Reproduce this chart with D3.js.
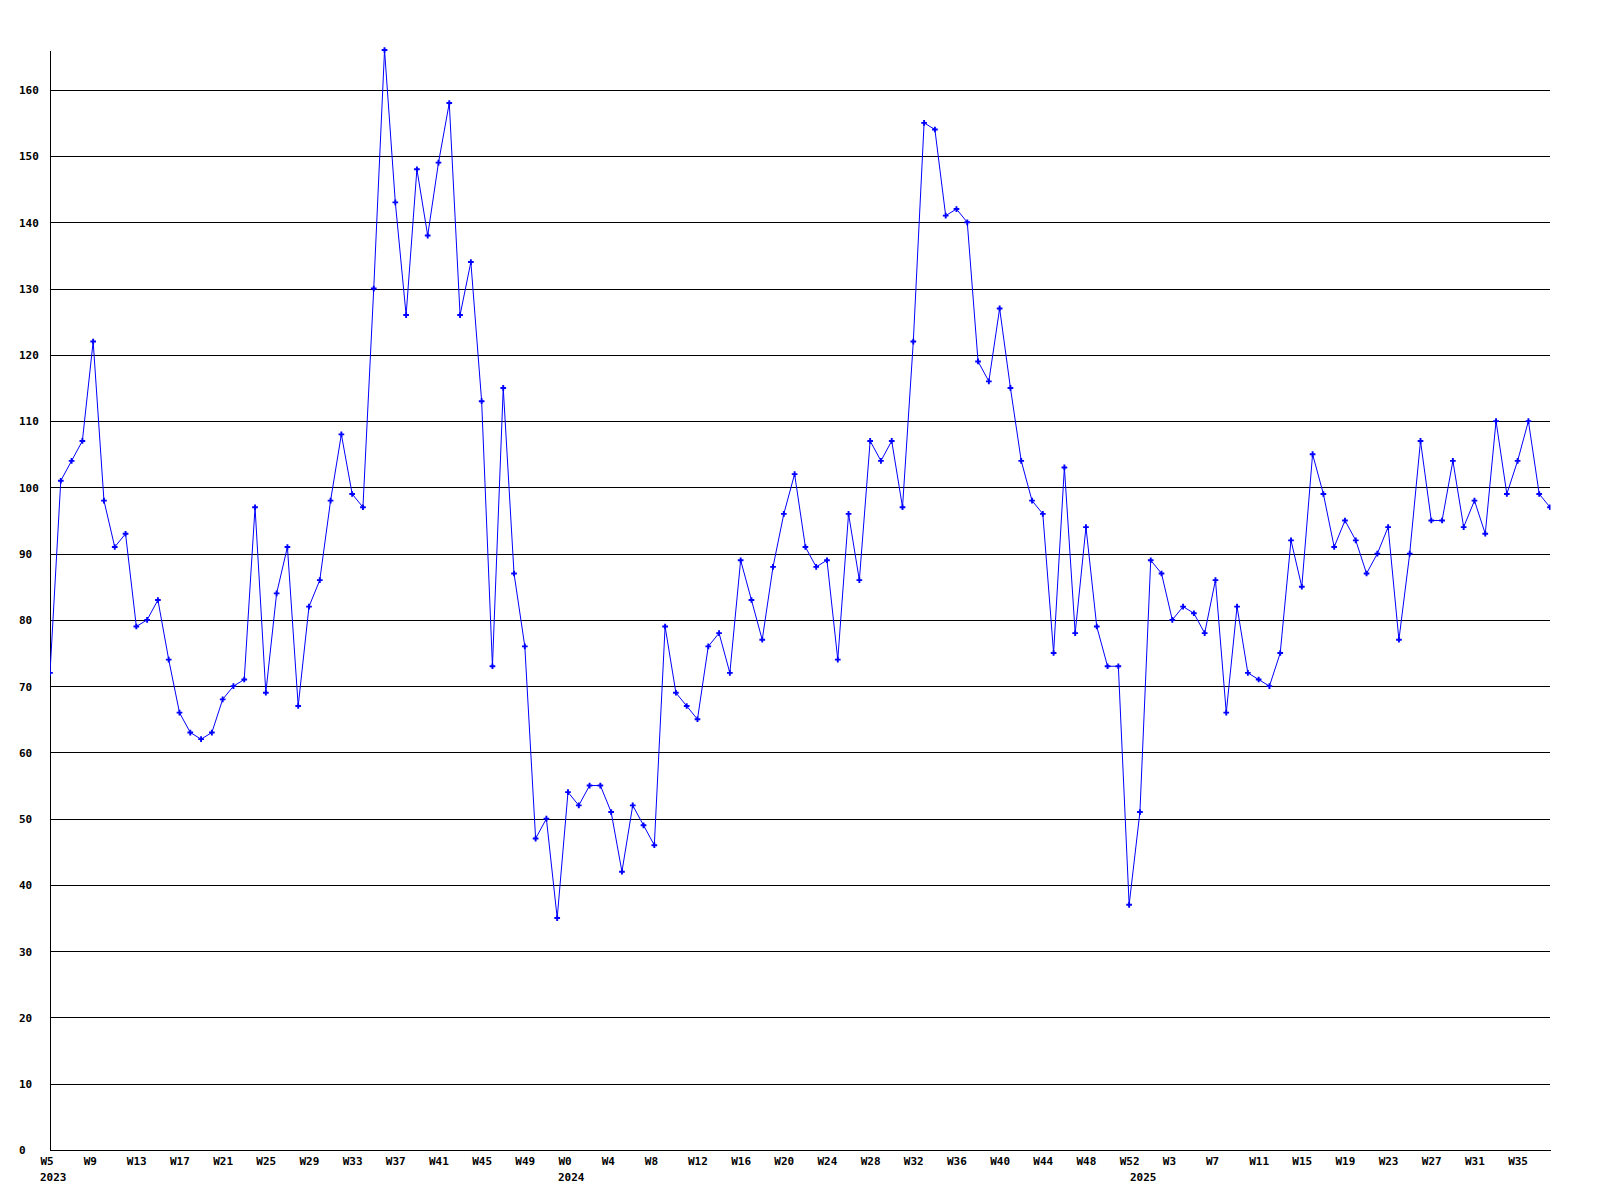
<!DOCTYPE html>
<html>
<head>
<meta charset="utf-8">
<script src="https://cdn.jsdelivr.net/npm/d3@7"></script>
<style>
  body { margin: 0; background: #ffffff; }
  text { font-family: "DejaVu Sans Mono", "Liberation Mono", monospace; font-weight: bold; font-size: 11px; fill: #000; }
</style>
</head>
<body>
<svg id="chart" width="1600" height="1200"></svg>
<script>
// ---- data (weekly values) ----
const years = [2023, 2024, 2025];
const firstWeeks = [5, 0, 0];
const values2023 = [72,101,104,107,122,98,91,93,79,80,83,74,66,63,62,63,68,70,71,97,69,84,91,67,82,86,98,108,99,97,130,166,143,126,148,138,149,158,126,134,113,73,115,87,76,47,50,35];
const values2024 = [54,52,55,55,51,42,52,49,46,79,69,67,65,76,78,72,89,83,77,88,96,102,91,88,89,74,96,86,107,104,107,97,122,155,154,141,142,140,119,116,127,115,104,98,96,75,103,78,94,79,73,73,37];
const values2025 = [51,89,87,80,82,81,78,86,66,82,72,71,70,75,92,85,105,99,91,95,92,87,90,94,77,90,107,95,95,104,94,98,93,110,99,104,110,99,97];
const yTicks = [0,10,20,30,40,50,60,70,80,90,100,110,120,130,140,150,160];
const labelEvery = 4;

// ---- build table ----
const seriesByYear = [values2023, values2024, values2025];
const data = [];
seriesByYear.forEach((vals, yi) => {
  vals.forEach((v, i) => data.push({ year: years[yi], week: firstWeeks[yi] + i, value: v, firstOfYear: i === 0 }));
});

const mLeft = 50, mRight = 1550, mTop = 50, mBottom = 1150;
const svg = d3.select("#chart");

const x = d3.scalePoint().domain(d3.range(data.length)).range([mLeft, mRight]);
const y = d3.scaleLinear().domain([0, d3.max(data, d => d.value)]).range([mBottom, mTop]);

// gridlines + y labels
const yAxis = svg.append("g")
  .attr("transform", `translate(${mLeft},0)`)
  .call(d3.axisLeft(y).tickValues(yTicks).tickSize(-(mRight - mLeft)).tickSizeOuter(0).tickFormat(d3.format("d")));
yAxis.selectAll(".tick line").attr("stroke", "#000").attr("shape-rendering", "crispEdges");
yAxis.select(".domain").attr("stroke", "#000").attr("shape-rendering", "crispEdges");
yAxis.selectAll(".tick text")
  .attr("x", 19 - mLeft)
  .attr("text-anchor", "start")
  .attr("dy", "0.35em")
  .attr("fill", "#000")
  .style("font-family", '"DejaVu Sans Mono", monospace')
  .style("font-size", "11px")
  .style("font-weight", "bold");

// x axis
const tickIdx = d3.range(0, data.length, labelEvery);
const xAxis = svg.append("g")
  .attr("transform", `translate(0,${mBottom})`)
  .call(d3.axisBottom(x).tickValues(tickIdx).tickSize(0).tickSizeOuter(0).tickFormat(i => "W" + data[i].week));
xAxis.select(".domain").attr("stroke", "#000").attr("shape-rendering", "crispEdges");
xAxis.selectAll(".tick text")
  .attr("x", -10)
  .attr("y", 15)
  .attr("dy", null)
  .attr("text-anchor", "start")
  .attr("fill", "#000")
  .style("font-family", '"DejaVu Sans Mono", monospace')
  .style("font-size", "11px")
  .style("font-weight", "bold");

// year labels
svg.append("g").selectAll("text")
  .data(data.map((d, i) => ({ ...d, i })).filter(d => d.firstOfYear))
  .join("text")
  .attr("x", d => x(d.i) - 10)
  .attr("y", mBottom + 30.5)
  .attr("text-anchor", "start")
  .text(d => d.year);

// clip to plot area
svg.append("clipPath").attr("id", "plotclip")
  .append("rect").attr("x", mLeft).attr("y", 0).attr("width", mRight - mLeft + 0.5).attr("height", mBottom);

// line
const line = d3.line().x((d, i) => x(i)).y(d => y(d.value));
svg.append("path")
  .datum(data)
  .attr("clip-path", "url(#plotclip)")
  .attr("fill", "none")
  .attr("stroke", "#0000ff")
  .attr("stroke-width", 1)
  .attr("d", line);

// markers
svg.append("g").attr("clip-path", "url(#plotclip)")
  .selectAll("path")
  .data(data)
  .join("path")
  .attr("transform", (d, i) => `translate(${x(i)},${y(d.value)})`)
  .attr("d", d3.symbol(d3.symbolCross, 18))
  .attr("fill", "#0000ff");
</script>
</body>
</html>
